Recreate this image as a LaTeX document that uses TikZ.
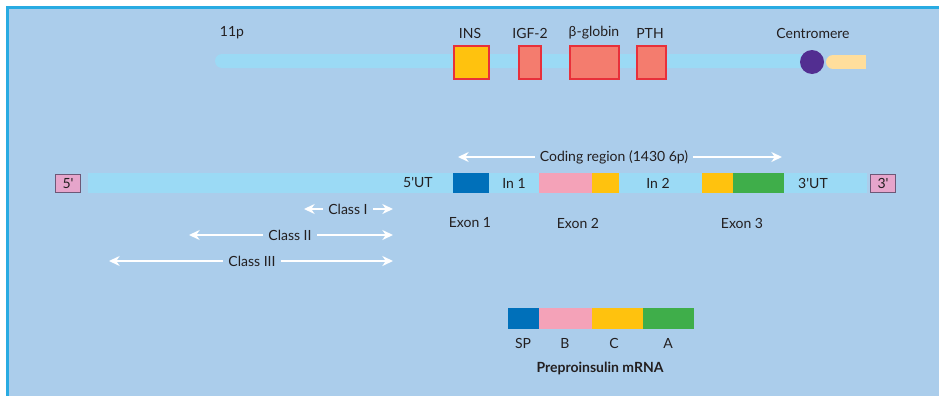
\documentclass[tikz,border=0pt]{standalone}
\usepackage{fontspec}
\setmainfont{Lato}
\usetikzlibrary{arrows.meta}

\definecolor{panel}{HTML}{ABCDEB}
\definecolor{frame}{HTML}{29ABE2}
\definecolor{chrom}{HTML}{9BDAF5}
\definecolor{insy}{HTML}{FFC20E}
\definecolor{genered}{HTML}{E8303A}
\definecolor{salmon}{HTML}{F47C6E}
\definecolor{cen}{HTML}{522E91}
\definecolor{tail}{HTML}{FFDE9C}
\definecolor{endpink}{HTML}{E6A5CB}
\definecolor{endedge}{HTML}{6D5877}
\definecolor{exblue}{HTML}{0070BA}
\definecolor{bpink}{HTML}{F4A2B8}
\definecolor{agreen}{HTML}{3FAE4A}
\definecolor{ink}{HTML}{231F20}

\newcommand{\pxu}{0.75pt}
\newcommand{\pr}{\textquotesingle}

\tikzset{
  lbl/.style={text=ink, font=\fontsize{10.5}{12}\selectfont, inner sep=0pt},
  genebox/.style={draw=genered, line width=1.5pt, inner sep=0pt, anchor=north west},
  seg/.style={inner sep=0pt, anchor=north west, minimum height=20*\pxu},
  endbox/.style={draw=endedge, line width=1.3pt, fill=endpink, inner sep=0pt,
    minimum width=25*\pxu, minimum height=18*\pxu, text=ink,
    font=\fontsize{10.5}{12}\selectfont},
  span/.style={draw=white, line width=2.2pt, {Stealth[length=8pt,width=7.5pt]}-{Stealth[length=8pt,width=7.5pt]}},
  spanlbl/.style={lbl, fill=panel, inner xsep=4pt, inner ysep=2pt},
}

\begin{document}
\begin{tikzpicture}[x=\pxu, y=-\pxu]
  % page and panel
  \fill[white] (0,0) rectangle (939,396);
  \useasboundingbox (0,0) rectangle (939,396);
  \fill[panel] (7,7) rectangle (939,396);
  \draw[frame, line width=1.6pt] (7.5,396) -- (7.5,7.5) -- (939,7.5);

  % chromosome 11p
  \fill[chrom, rounded corners=7*\pxu] (215,54) rectangle (812,68);
  \fill[tail] (833,62) circle[radius=7];
  \fill[tail] (833,55) rectangle (866,69);
  \node[circle, fill=cen, inner sep=0pt, minimum size=24*\pxu] (centro) at (812,62) {};

  \node[genebox, fill=insy, minimum width=35*\pxu, minimum height=33*\pxu] (ins) at (453,45) {};
  \node[genebox, fill=salmon, minimum width=22*\pxu, minimum height=33*\pxu] (igf) at (518,45) {};
  \node[genebox, fill=salmon, minimum width=49*\pxu, minimum height=33*\pxu] (glob) at (569,45) {};
  \node[genebox, fill=salmon, minimum width=29*\pxu, minimum height=33*\pxu] (pth) at (636,45) {};

  \node[lbl] (l11p) at (232,33) {11p};
  \node[lbl] (lins) at (470,33) {INS};
  \node[lbl] (ligf) at (530,33) {IGF-2};
  \node[lbl] (lglob) at (594,33) {β-globin};
  \node[lbl] (lpth) at (650,33) {PTH};
  \node[lbl] (lcen) at (813,33) {Centromere};

  % insulin gene
  \node[endbox] (five) at (68,183.5) {5\pr};
  \node[endbox] (three) at (883,183.5) {3\pr};
  \node[seg, fill=chrom, minimum width=779*\pxu] (body) at (88,173) {};
  \node[seg, fill=exblue, minimum width=36*\pxu] (ex1) at (453,173) {};
  \node[seg, fill=bpink, minimum width=53*\pxu] (ex2b) at (539,173) {};
  \node[seg, fill=insy, minimum width=27*\pxu] (ex2c) at (592,173) {};
  \node[seg, fill=insy, minimum width=31*\pxu] (ex3c) at (702,173) {};
  \node[seg, fill=agreen, minimum width=51*\pxu] (ex3a) at (733,173) {};

  \node[lbl, anchor=east] (utr5) at (433,183) {5\pr UT};
  \node[lbl] (in1) at (514,183) {In 1};
  \node[lbl] (in2) at (658,183) {In 2};
  \node[lbl] (utr3) at (813,183) {3\pr UT};

  \node[lbl] (lex1) at (470,223) {Exon 1};
  \node[lbl] (lex2) at (578,223) {Exon 2};
  \node[lbl] (lex3) at (742,223) {Exon 3};

  % coding region span
  \coordinate (cr1) at (458,157);
  \coordinate (cr2) at (782,157);
  \draw[span] (cr1) -- (cr2);
  \node[spanlbl] (lcr) at (614,157) {Coding region (1430 6p)};

  % promoter polymorphism classes
  \coordinate (c1a) at (304,209);
  \coordinate (c1b) at (393,209);
  \draw[span] (c1a) -- (c1b);
  \node[spanlbl] (lc1) at (348,209) {Class I};

  \coordinate (c2a) at (189,235);
  \coordinate (c2b) at (393,235);
  \draw[span] (c2a) -- (c2b);
  \node[spanlbl] (lc2) at (290,235) {Class II};

  \coordinate (c3a) at (109,261);
  \coordinate (c3b) at (393,261);
  \draw[span] (c3a) -- (c3b);
  \node[spanlbl] (lc3) at (252,261) {Class III};

  % preproinsulin mRNA
  \node[seg, fill=exblue, minimum width=31*\pxu, minimum height=21*\pxu] (sp) at (508,308) {};
  \node[seg, fill=bpink, minimum width=53*\pxu, minimum height=21*\pxu] (pb) at (539,308) {};
  \node[seg, fill=insy, minimum width=51*\pxu, minimum height=21*\pxu] (pc) at (592,308) {};
  \node[seg, fill=agreen, minimum width=51*\pxu, minimum height=21*\pxu] (pa) at (643,308) {};

  \node[lbl] (lsp) at (523,343) {SP};
  \node[lbl] (lb) at (565,343) {B};
  \node[lbl] (lc) at (614,343) {C};
  \node[lbl] (la) at (668,343) {A};
  \node[lbl, font=\fontsize{10.5}{12}\selectfont\bfseries] (lmrna) at (600,368) {Preproinsulin mRNA};
\end{tikzpicture}
\end{document}
